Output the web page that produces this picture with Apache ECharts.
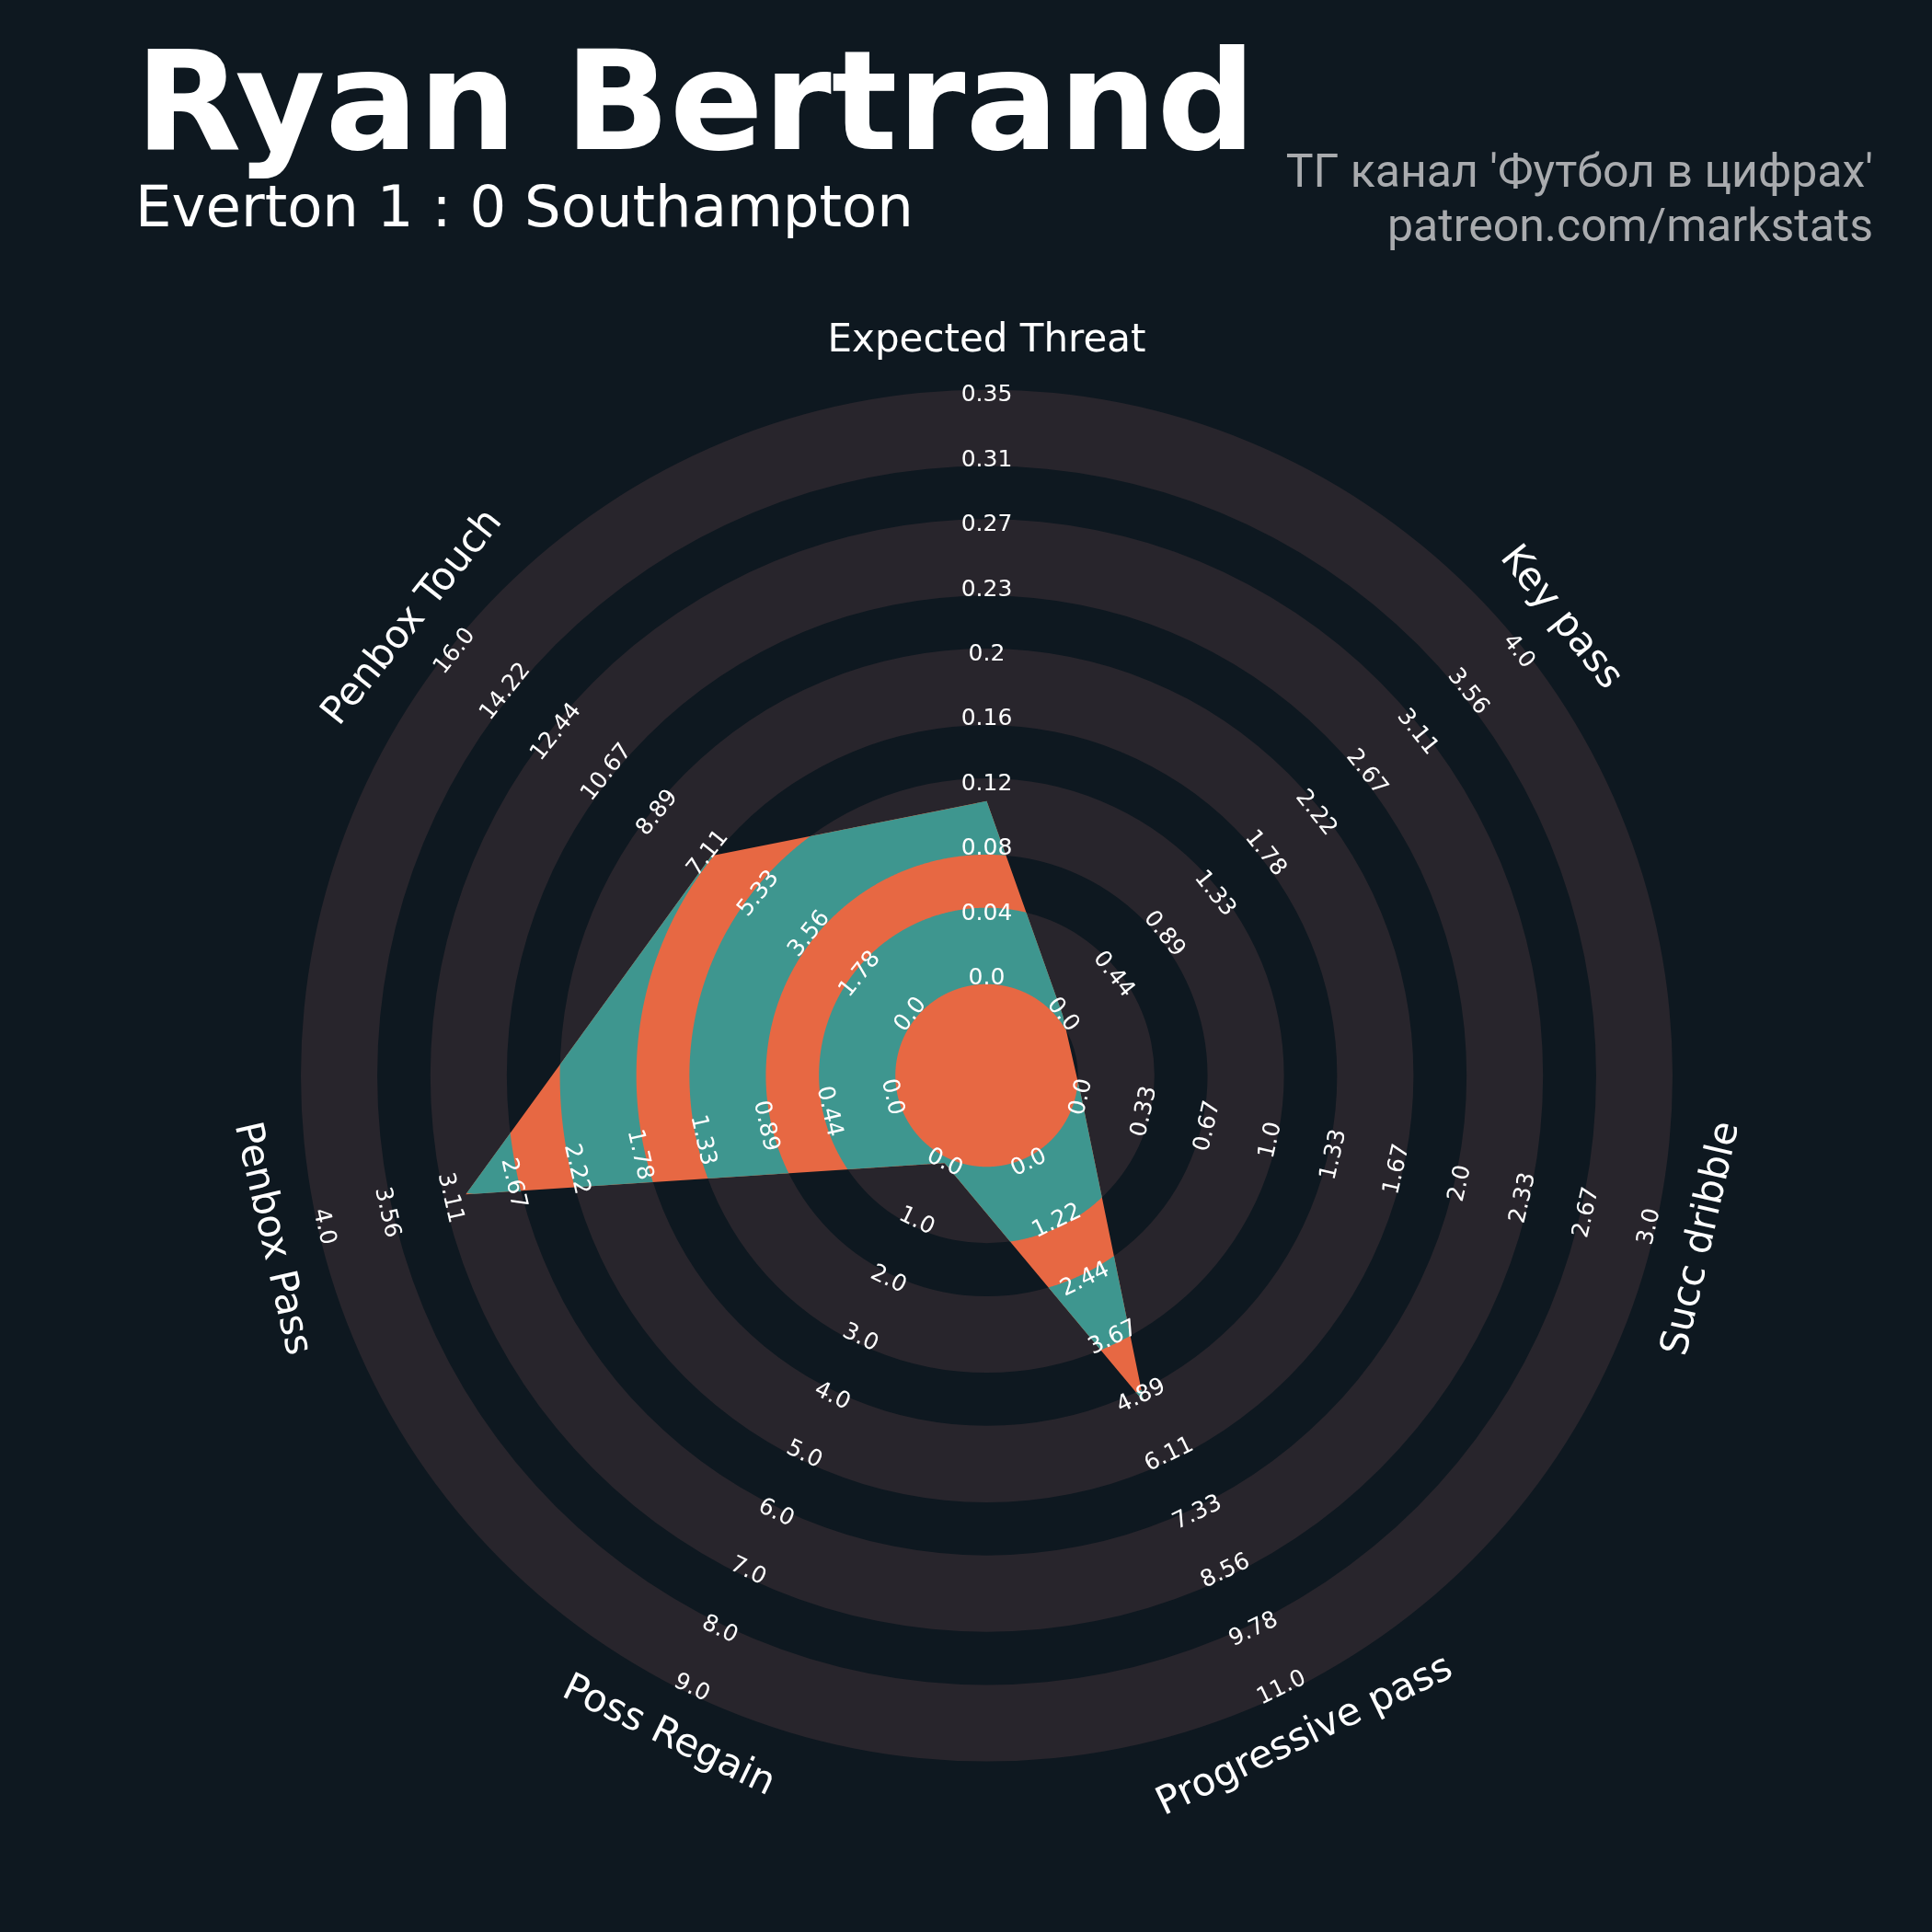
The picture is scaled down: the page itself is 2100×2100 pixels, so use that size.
<!DOCTYPE html>
<html>
<head>
<meta charset="utf-8">
<title>Ryan Bertrand radar</title>
<script src="https://cdn.jsdelivr.net/npm/echarts@6/dist/echarts.min.js"></script>
<style>
  html, body { margin: 0; padding: 0; background: #0e1820; }
  #chart { width: 2100px; height: 2100px; }
</style>
</head>
<body>
<div id="chart"></div>
<script>
// --- data ---
const params = ['Expected Threat', 'Key pass', 'Succ dribble', 'Progressive pass',
  'Poss Regain', 'Penbox Pass', 'Penbox Touch'];
const minRange = [0, 0, 0, 0, 0, 0, 0];
const maxRange = [0.352, 4, 3, 11, 9, 4, 16];
const values = [0.107, 0, 0, 5, 0, 3, 7];

const xtLabels = ['0.0', '0.04', '0.08', '0.12', '0.16', '0.2', '0.23', '0.27', '0.31', '0.35'];
const keyPassLabels = ['0.0', '0.44', '0.89', '1.33', '1.78', '2.22', '2.67', '3.11', '3.56', '4.0'];
const dribbleLabels = ['0.0', '0.33', '0.67', '1.0', '1.33', '1.67', '2.0', '2.33', '2.67', '3.0'];
const progPassLabels = ['0.0', '1.22', '2.44', '3.67', '4.89', '6.11', '7.33', '8.56', '9.78', '11.0'];
const regainLabels = ['0.0', '1.0', '2.0', '3.0', '4.0', '5.0', '6.0', '7.0', '8.0', '9.0'];
const penboxPassLabels = ['0.0', '0.44', '0.89', '1.33', '1.78', '2.22', '2.67', '3.11', '3.56', '4.0'];
const penboxTouchLabels = ['0.0', '1.78', '3.56', '5.33', '7.11', '8.89', '10.67', '12.44', '14.22', '16.0'];
const rangeLabels = [xtLabels, keyPassLabels, dribbleLabels, progPassLabels,
  regainLabels, penboxPassLabels, penboxTouchLabels];

// --- layout (radius units: centre circle 1.5, one unit per label step) ---
const innerR = 1.5;
const stepR = 1;
const nSteps = 9;
const ringBands = [[1.41, 2.59], [3.41, 4.59], [5.41, 6.59], [7.41, 8.59], [9.41, 10.59]];
const paramR = 11.33;

const bgColor = '#0e1820';
const ringColor = '#28252c';
const radarColor = '#e76843';
const ringRadarColor = '#3e968f';
const font = '"DejaVu Sans", sans-serif';

const n = params.length;
const angles = params.map((p, i) => i * 360 / n);

function toR(i, v) {
  return innerR + nSteps * stepR * (v - minRange[i]) / (maxRange[i] - minRange[i]);
}
function textRot(deg) {
  let d = deg;
  if (deg > 90 && deg < 270) d += 180;
  return -d * Math.PI / 180;
}

// polygon vertices in unit space (x right, y up, angle clockwise from top)
const verts = values.map((v, i) => {
  const r = toR(i, v);
  const t = angles[i] * Math.PI / 180;
  return [r * Math.sin(t), r * Math.cos(t)];
});
function radarRadius(tDeg) {
  const t = tDeg * Math.PI / 180;
  const d = [Math.sin(t), Math.cos(t)];
  const k = Math.min(Math.floor(tDeg / (360 / n)), n - 1);
  const p = verts[k], q = verts[(k + 1) % n];
  const e = [q[0] - p[0], q[1] - p[1]];
  return (p[0] * e[1] - p[1] * e[0]) / (d[0] * e[1] - d[1] * e[0]);
}

const rangeItems = [];
rangeLabels.forEach((labels, i) => {
  labels.forEach((txt, k) => {
    rangeItems.push({ value: [innerR + k * stepR, angles[i]], text: txt, rot: textRot(angles[i]) });
  });
});
const paramItems = params.map((p, i) => ({ value: [paramR, angles[i]], text: p, rot: textRot(angles[i]) }));

const chart = echarts.init(document.getElementById('chart'));

const option = {
  backgroundColor: bgColor,
  animation: false,
  polar: { center: [1072.5, 1169], radius: 746.2 },
  angleAxis: { type: 'value', min: 0, max: 360, startAngle: 90, clockwise: true, show: false },
  radiusAxis: { type: 'value', min: 0, max: 10.6, show: false },
  graphic: [
    { type: 'text', left: 147, top: 48, style: { text: 'Ryan Bertrand', fill: '#ffffff', font: 'bold 150px ' + font } },
    { type: 'text', left: 147, top: 198, style: { text: 'Everton 1 : 0 Southampton', fill: '#ffffff', font: '62.5px ' + font } },
    { type: 'text', right: 64, top: 165, style: { text: "ТГ канал 'Футбол в цифрах'", fill: '#a9abae', font: '50px Roboto', align: 'right' } },
    { type: 'text', right: 64, top: 224, style: { text: 'patreon.com/markstats', fill: '#a9abae', font: '50px Roboto', align: 'right' } }
  ],
  series: [
    {
      // background rings
      type: 'custom',
      coordinateSystem: 'polar',
      silent: true,
      data: ringBands,
      renderItem: function (p, api) {
        const c = api.coord([0, 0]);
        const a = api.coord([api.value(0), 0]);
        const b = api.coord([api.value(1), 0]);
        return {
          type: 'sector',
          shape: {
            cx: c[0], cy: c[1],
            r0: Math.hypot(a[0] - c[0], a[1] - c[1]),
            r: Math.hypot(b[0] - c[0], b[1] - c[1]),
            startAngle: 0, endAngle: Math.PI * 2
          },
          style: { fill: ringColor }
        };
      }
    },
    {
      // radar polygon
      type: 'custom',
      coordinateSystem: 'polar',
      silent: true,
      data: values.map((v, i) => [toR(i, v), angles[i]]),
      renderItem: function (p, api) {
        if (p.dataIndex !== 0) return null;
        const pts = values.map((v, i) => api.coord([toR(i, v), angles[i]]));
        return { type: 'polygon', shape: { points: pts }, style: { fill: radarColor } };
      }
    },
    {
      // radar polygon inside the rings
      type: 'custom',
      coordinateSystem: 'polar',
      silent: true,
      data: ringBands,
      renderItem: function (p, api) {
        const a = api.value(0), b = api.value(1);
        const outer = [], inner = [];
        const steps = 1440;
        for (let s = 0; s <= steps; s++) {
          const t = s * 360 / steps;
          const R = radarRadius(t >= 360 ? 0 : t);
          const r = Math.max(a, Math.min(b, R));
          outer.push(api.coord([r, t]));
          inner.push(api.coord([a, t]));
        }
        const pts = outer.concat(inner.reverse());
        return { type: 'polygon', shape: { points: pts }, style: { fill: ringRadarColor } };
      }
    },
    {
      // range labels
      type: 'custom',
      coordinateSystem: 'polar',
      silent: true,
      data: rangeItems.map(d => d.value),
      renderItem: function (p, api) {
        const pt = api.coord([api.value(0), api.value(1)]);
        const it = rangeItems[p.dataIndex];
        return {
          type: 'text', x: pt[0], y: pt[1], rotation: it.rot,
          style: { text: it.text, fill: '#ffffff', font: '25px ' + font, align: 'center', verticalAlign: 'middle' }
        };
      }
    },
    {
      // parameter names
      type: 'custom',
      coordinateSystem: 'polar',
      silent: true,
      data: paramItems.map(d => d.value),
      renderItem: function (p, api) {
        const pt = api.coord([api.value(0), api.value(1)]);
        const it = paramItems[p.dataIndex];
        return {
          type: 'text', x: pt[0], y: pt[1], rotation: it.rot,
          style: { text: it.text, fill: '#ffffff', font: '42px ' + font, align: 'center', verticalAlign: 'middle' }
        };
      }
    }
  ]
};

chart.setOption(option);
</script>
</body>
</html>
